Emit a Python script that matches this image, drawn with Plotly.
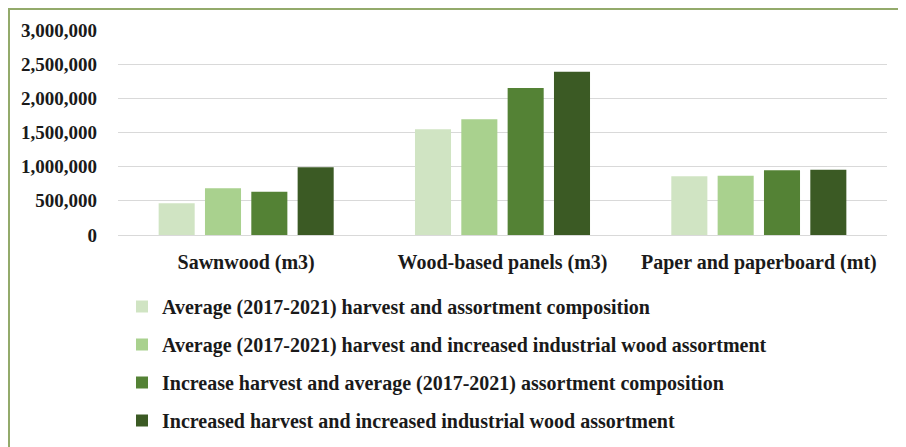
import plotly.graph_objects as go

categories = ["Sawnwood (m3)", "Wood-based panels (m3)", "Paper and paperboard (mt)"]
series_names = [
    "Average (2017-2021) harvest and assortment composition",
    "Average (2017-2021) harvest and increased industrial wood assortment",
    "Increase harvest and average (2017-2021) assortment composition",
    "Increased harvest and increased industrial wood assortment",
]
avg_avg = [464000, 1547000, 859000]
avg_inc = [683000, 1693000, 868000]
inc_avg = [634000, 2151000, 947000]
inc_inc = [990000, 2390000, 956000]
y_ticks = [0, 500000, 1000000, 1500000, 2000000, 2500000, 3000000]
y_tick_labels = ["0", "500,000", "1,000,000", "1,500,000", "2,000,000", "2,500,000", "3,000,000"]

colors = ["#d0e4c3", "#a9d18e", "#548235", "#3b5a24"]
values = [avg_avg, avg_inc, inc_avg, inc_inc]

NUMFONT = "Liberation Serif"
TXTFONT = "Liberation Serif"
TXT = "#1a1a1a"

fig = go.Figure()
for i, (name, vals) in enumerate(zip(series_names, values)):
    fig.add_trace(go.Bar(
        x=categories, y=vals, name=name,
        marker=dict(color=colors[i], line=dict(width=0)),
        legendgroup=f"g{i}",
    ))

# page is offset 8px by the default body margin
W, H = 898, 439
ml, mr, mt, mb = 110, 19, 22, 212
pw, ph = W - ml - mr, H - mt - mb

def px_to_paper_x(px):
    return (px - ml) / pw

def py_to_paper_y(py):
    return (H - mb - py) / ph

border = "#93aa6b"
fig.add_shape(type="line", xref="paper", yref="paper",
              x0=px_to_paper_x(0), x1=px_to_paper_x(W), y0=py_to_paper_y(1), y1=py_to_paper_y(1),
              line=dict(color=border, width=2))
fig.add_shape(type="line", xref="paper", yref="paper",
              x0=px_to_paper_x(1), x1=px_to_paper_x(1), y0=py_to_paper_y(0), y1=py_to_paper_y(H),
              line=dict(color=border, width=2))

fig.update_layout(
    width=W, height=H,
    margin=dict(l=ml, r=mr, t=mt, b=mb, autoexpand=False),
    paper_bgcolor="white", plot_bgcolor="white",
    barmode="group", bargap=0.277, bargroupgap=0.222,
    font=dict(family=NUMFONT, size=19, color=TXT),
    showlegend=True,
    legend=dict(
        x=px_to_paper_x(114), y=py_to_paper_y(279), xanchor="left", yanchor="top",
        traceorder="grouped", tracegroupgap=9,
        font=dict(family=TXTFONT, size=20, color=TXT, weight="bold"),
        bgcolor="rgba(0,0,0,0)",
    ),
    xaxis=dict(
        showgrid=False, showline=False, zeroline=False,
        tickfont=dict(family=TXTFONT, size=20, color=TXT, weight="bold"),
        ticklabelstandoff=13, automargin=False,
    ),
    yaxis=dict(
        range=[0, 3000000], tickvals=y_ticks, ticktext=y_tick_labels,
        showgrid=True, gridcolor="#d9d9d9", gridwidth=1,
        zeroline=True, zerolinecolor="#d9d9d9", zerolinewidth=1,
        showline=False,
        tickfont=dict(family=NUMFONT, size=19, color=TXT, weight="bold"),
        ticklabelstandoff=20, automargin=False,
    ),
)

fig.write_html("out.html")
